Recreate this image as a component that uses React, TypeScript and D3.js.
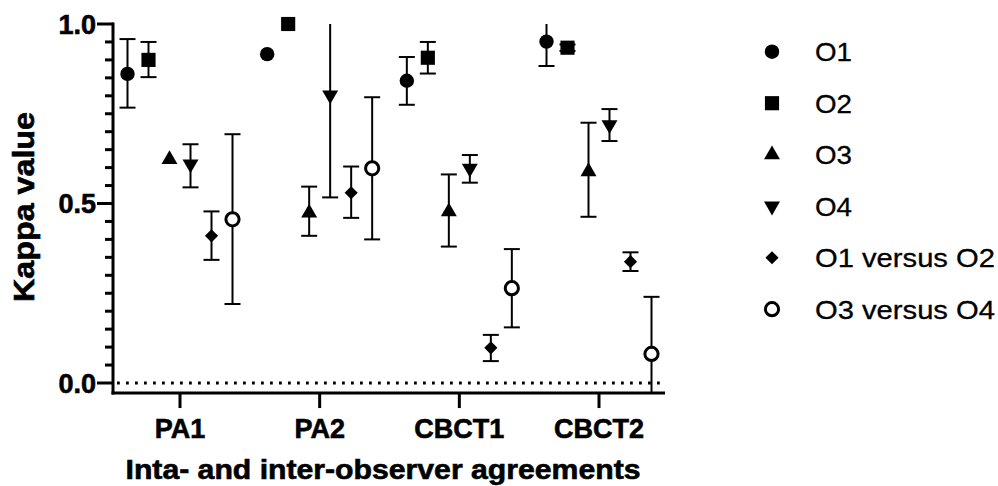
import React from "react";
import * as d3 from "d3";

const categories = ["PA1", "PA2", "CBCT1", "CBCT2"];
const seriesNames = ["O1", "O2", "O3", "O4", "O1 versus O2", "O3 versus O4"];
// values per series, per category
const O1 = [0.861, 0.916, 0.842, 0.951];
const O1lo = [0.767, null, 0.775, 0.883];
const O1hi = [0.958, null, 0.908, 1.03];
const O2 = [0.9, 1.0, 0.906, 0.934];
const O2lo = [0.852, null, 0.862, 0.925];
const O2hi = [0.95, null, 0.95, 0.943];
const O3 = [0.623, 0.474, 0.477, 0.589];
const O3lo = [null, 0.41, 0.38, 0.463];
const O3hi = [null, 0.547, 0.581, 0.725];
const O4 = [0.61, 0.802, 0.598, 0.719];
const O4lo = [0.545, 0.517, 0.558, 0.674];
const O4hi = [0.665, 1.08, 0.635, 0.763];
const O1vO2 = [0.41, 0.53, 0.098, 0.338];
const O1vO2lo = [0.343, 0.46, 0.061, 0.312];
const O1vO2hi = [0.478, 0.603, 0.134, 0.364];
const O3vO4 = [0.456, 0.598, 0.264, 0.081];
const O3vO4lo = [0.22, 0.4, 0.155, -0.08];
const O3vO4hi = [0.693, 0.796, 0.373, 0.24];
const yTicksMajor = [0, 0.5, 1.0];
const yTickLabels = ["0.0", "0.5", "1.0"];

const seriesVals = [O1, O2, O3, O4, O1vO2, O3vO4];
const seriesLo = [O1lo, O2lo, O3lo, O4lo, O1vO2lo, O3vO4lo];
const seriesHi = [O1hi, O2hi, O3hi, O4hi, O1vO2hi, O3vO4hi];

const W = 998;
const H = 486;
const y = d3.scaleLinear().domain([0, 1]).range([383, 24]);
const yMin = -0.028;
const x = d3.scaleLinear().domain([0, 3]).range([180, 599]);
const xLeft = 113;
const xRight = 665;
const step = 21;

function marker(i: number, cx: number, cy: number, key: string) {
  const t = `translate(${cx},${cy})`;
  if (i === 0) return <circle key={key} cx={cx} cy={cy} r={7.2} fill="#000" />;
  if (i === 1)
    return <path key={key} transform={t} d={d3.symbol(d3.symbolSquare, 200)()!} fill="#000" />;
  if (i === 2)
    return <path key={key} transform={t} d={d3.symbol(d3.symbolTriangle, 110)()!} fill="#000" />;
  if (i === 3)
    return (
      <path key={key} transform={`${t} rotate(180)`} d={d3.symbol(d3.symbolTriangle, 110)()!} fill="#000" />
    );
  if (i === 4)
    return <path key={key} transform={t} d={d3.symbol(d3.symbolDiamond2, 110)()!} fill="#000" />;
  return <circle key={key} cx={cx} cy={cy} r={6.6} fill="#fff" stroke="#000" strokeWidth={3} />;
}

export default function App() {
  const minorTicks = d3.range(0, 21).map((k) => k * 0.05).filter((v) => Math.round(v * 100) % 50 !== 0);
  const font = "'Liberation Sans', Arial, Helvetica, sans-serif";
  return (
    <svg width={W} height={H} style={{ position: "absolute", left: 0, top: 0, background: "#fff" }}>
      <defs>
        <clipPath id="plotclip">
          <rect x={xLeft} y={y(1)} width={xRight - xLeft} height={y(yMin) - y(1)} />
        </clipPath>
      </defs>
      <rect width={W} height={H} fill="#fff" />
      {/* dotted zero line */}
      <line x1={xLeft + 4} x2={xRight} y1={y(0)} y2={y(0)} stroke="#000" strokeWidth={2.8} strokeDasharray="2.8 6.2" />
      {/* error bars */}
      <g clipPath="url(#plotclip)" stroke="#000" strokeWidth={2}>
        {seriesVals.map((vals, i) =>
          vals.map((v, c) => {
            const lo = seriesLo[i][c];
            const hi = seriesHi[i][c];
            if (lo == null || hi == null) return null;
            const cx = x(c) + (i - 2.5) * step;
            return (
              <g key={`e${i}-${c}`}>
                <line x1={cx} x2={cx} y1={y(lo)} y2={y(hi)} />
                <line x1={cx - 8} x2={cx + 8} y1={y(lo)} y2={y(lo)} />
                <line x1={cx - 8} x2={cx + 8} y1={y(hi)} y2={y(hi)} />
              </g>
            );
          })
        )}
      </g>
      {/* markers */}
      <g>
        {seriesVals.map((vals, i) => vals.map((v, c) => marker(i, x(c) + (i - 2.5) * step, y(v), `m${i}-${c}`)))}
      </g>
      {/* y axis */}
      <line x1={xLeft} x2={xLeft} y1={y(1) - 1.5} y2={y(yMin) + 1.5} stroke="#000" strokeWidth={3} />
      {minorTicks.map((v) => (
        <line key={`mt${v}`} x1={xLeft - 8} x2={xLeft} y1={y(v)} y2={y(v)} stroke="#000" strokeWidth={3} />
      ))}
      {yTicksMajor.map((v, k) => (
        <g key={`Mt${v}`}>
          <line x1={xLeft - 16} x2={xLeft} y1={y(v)} y2={y(v)} stroke="#000" strokeWidth={3} />
          <text
            x={xLeft - 17}
            y={y(v) + 9.5}
            textAnchor="end"
            fontFamily={font}
            fontWeight="bold"
            fontSize={27}
            stroke="#000"
            strokeWidth={0.6}
          >
            {yTickLabels[k]}
          </text>
        </g>
      ))}
      {/* x axis */}
      <line x1={xLeft - 1.5} x2={xRight} y1={y(yMin)} y2={y(yMin)} stroke="#000" strokeWidth={3} />
      {categories.map((c, k) => (
        <g key={c}>
          <line x1={x(k)} x2={x(k)} y1={y(yMin)} y2={y(yMin) + 15} stroke="#000" strokeWidth={3} />
          <text
            x={x(k)}
            y={438}
            textAnchor="middle"
            fontFamily={font}
            fontWeight="bold"
            fontSize={27}
            stroke="#000"
            strokeWidth={0.6}
          >
            {c}
          </text>
        </g>
      ))}
      {/* axis titles */}
      <text
        x={383}
        y={479}
        textAnchor="middle"
        fontFamily={font}
        fontWeight="bold"
        fontSize={27}
        textLength={515}
        lengthAdjust="spacingAndGlyphs"
        stroke="#000"
        strokeWidth={0.6}
      >
        Inta- and inter-observer agreements
      </text>
      <text
        transform={`translate(34,207) rotate(-90)`}
        textAnchor="middle"
        fontFamily={font}
        fontWeight="bold"
        fontSize={29}
        textLength={190}
        lengthAdjust="spacingAndGlyphs"
        stroke="#000"
        strokeWidth={0.6}
      >
        Kappa value
      </text>
      {/* legend */}
      {seriesNames.map((n, i) => {
        const ly = 51.7 + i * 51.5;
        const w = n.length > 3 ? 180 : 37;
        return (
          <g key={n}>
            {marker(i, 772, ly, `l${i}`)}
            <text
              x={815}
              y={ly + 9.5}
              fontFamily={font}
              fontSize={26}
              textLength={w}
              lengthAdjust="spacingAndGlyphs"
              stroke="#000"
              strokeWidth={0.3}
            >
              {n}
            </text>
          </g>
        );
      })}
    </svg>
  );
}
